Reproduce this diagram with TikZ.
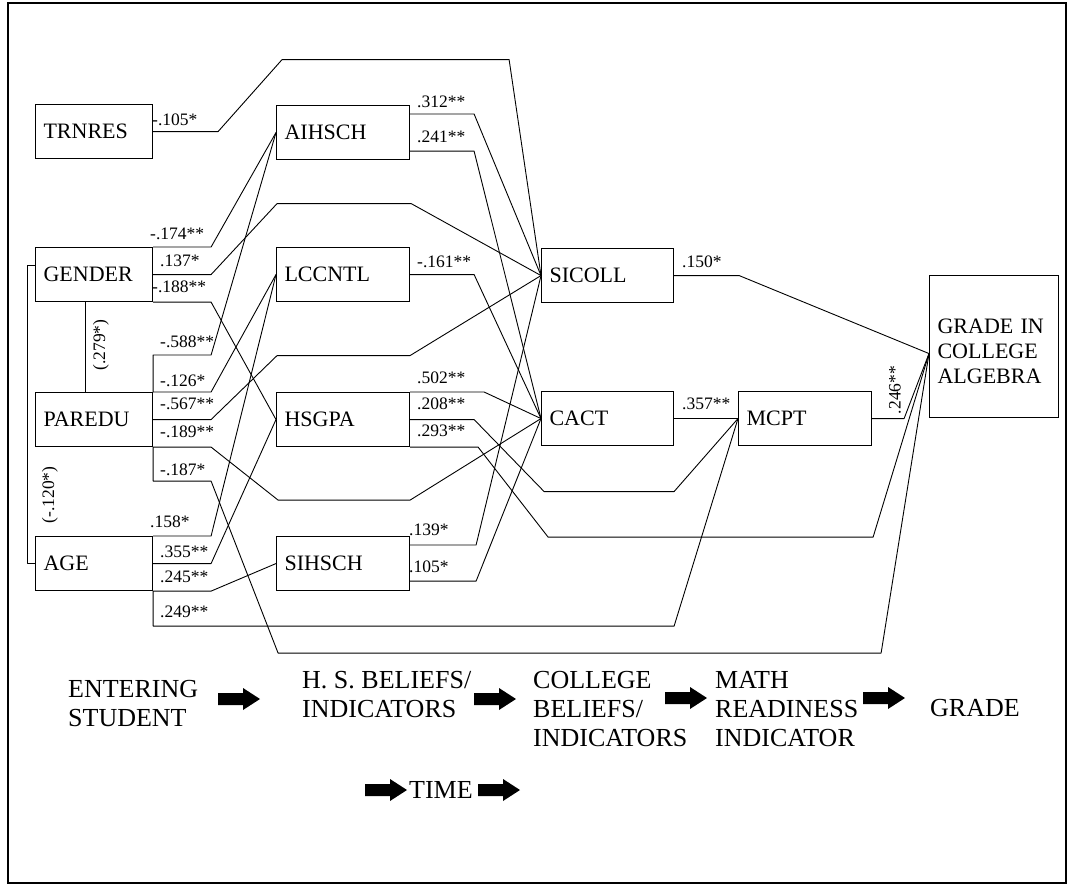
\documentclass[tikz,border=0pt]{standalone}
\usepackage{fontspec}
\setmainfont{Liberation Serif}
\usetikzlibrary{calc}

\tikzset{
  var/.style={draw, line width=1.1pt, anchor=north west, inner xsep=8pt, inner ysep=0pt,
    minimum height=54pt, align=left, font=\fontsize{22}{25}\selectfont},
  link/.style={line width=0.9pt, line join=round},
  coef/.style={inner sep=0pt, anchor=west, font=\fontsize{17.5}{19}\selectfont},
  stage/.style={inner sep=0pt, anchor=west, align=left, font=\fontsize{26}{29}\selectfont},
}
\newcommand{\fatarrow}[1]{\fill (#1) ++(0,-6) -- ++(25,0) -- ++(0,-5) -- ++(17,11) -- ++(-17,11) -- ++(0,-5) -- ++(-25,0) -- cycle;}

\begin{document}
\begin{tikzpicture}[x=1pt, y=-1pt]
  \useasboundingbox (0,0) rectangle (1074,886);
  \draw[line width=2pt] (8,3) rectangle (1066,883);

  % entering student
  \node[var, text width=101pt] (TRNRES) at (35,104) {TRNRES};
  \node[var, text width=101pt] (GENDER) at (35,247) {GENDER};
  \node[var, text width=101pt] (PAREDU) at (35,392) {PAREDU};
  \node[var, text width=101pt] (AGE) at (35,536) {AGE};
  % high school
  \node[var, text width=117pt] (AIHSCH) at (276,105) {AIHSCH};
  \node[var, text width=117pt] (LCCNTL) at (276,247) {LCCNTL};
  \node[var, text width=117pt] (HSGPA) at (276,392) {HSGPA};
  \node[var, text width=117pt] (SIHSCH) at (276,536) {SIHSCH};
  % college, readiness, grade
  \node[var, text width=116pt] (SICOLL) at (541,248) {SICOLL};
  \node[var, text width=116pt] (CACT) at (541,391) {CACT};
  \node[var, text width=117pt] (MCPT) at (738,391) {MCPT};
  \node[var, text width=113pt, minimum height=142pt] (GRADE) at (929,275) {};
  \node[var, draw=none, anchor=west, text width=113pt] (gradeTxt) at ($(GRADE.west)+(0,5)$) {GRADE IN\\COLLEGE\\ALGEBRA};
  \coordinate (gIn) at ($(GRADE.west)+(0,7)$);

  % correlations
  \draw[link] ($(GENDER.south west)+(50,0)$) -- ($(PAREDU.north west)+(50,0)$);
  \draw[link] ($(GENDER.west)+(0,-9)$) -- ++(-8,0) |- (AGE.west);
  \node[coef, anchor=center, rotate=90] (r279) at (101,345) {(.279*)};
  \node[coef, anchor=center, rotate=90] (r120) at (50,495) {(-.120*)};

  % paths from entering student
  \draw[link] (TRNRES.east) -- ++(65,0) -- ++(64,-72) -- ++(227,0) -- (SICOLL.west);
  \draw[link] (GENDER.north east) -- ++(58,0) -- (AIHSCH.west);
  \draw[link] (GENDER.east) -- ++(58,0) -- ++(66,-71) -- ++(134,0) -- (SICOLL.west);
  \draw[link] (GENDER.south east) -- ++(58,0) -- (HSGPA.west);
  \draw[link] (PAREDU.north east) -- ++(0,-37) -- ++(58,0) -- (AIHSCH.west);
  \draw[link] (PAREDU.north east) -- ++(58,0) -- (LCCNTL.west);
  \draw[link] (PAREDU.east) -- ++(58,0) -- ++(66,-64) -- ++(133,0) -- (SICOLL.west);
  \draw[link] (PAREDU.south east) -- ++(58,0) -- ++(67,53) -- ++(132,0) -- (CACT.west);
  \draw[link] (PAREDU.south east) -- ++(0,34) -- ++(58,0) -- ++(67,172) -- ++(603,0) -- (gIn);
  \draw[link] (AGE.north east) -- ++(58,0) -- (LCCNTL.west);
  \draw[link] (AGE.east) -- ++(58,0) -- (HSGPA.west);
  \draw[link] (AGE.south east) -- ++(58,0) -- (SIHSCH.west);
  \draw[link] (AGE.south east) -- ++(0,35) -- ++(521,0) -- (MCPT.west);

  % paths from high school
  \draw[link] ($(AIHSCH.north east)+(0,9)$) -- ++(64,0) -- (SICOLL.west);
  \draw[link] ($(AIHSCH.south east)+(0,-9)$) -- ++(64,0) -- (CACT.west);
  \draw[link] (LCCNTL.east) -- ++(64,0) -- (CACT.west);
  \draw[link] (HSGPA.north east) -- ++(74,0) -- (CACT.west);
  \draw[link] (HSGPA.east) -- ++(64,0) -- ++(70,72) -- ++(130,0) -- (MCPT.west);
  \draw[link] (HSGPA.south east) -- ++(68,0) -- ++(70,90) -- ++(325,0) -- (gIn);
  \draw[link] ($(SIHSCH.north east)+(0,9)$) -- ++(66,0) -- (SICOLL.west);
  \draw[link] ($(SIHSCH.south east)+(0,-10)$) -- ++(66,0) -- (CACT.west);

  % paths from college
  \draw[link] (SICOLL.east) -- ++(65,0) -- (gIn);
  \draw[link] (CACT.east) -- (MCPT.west);
  \draw[link] (MCPT.east) -- ++(32,0) -- (gIn);

  % coefficients
  \node[coef] (c105a) at (152,120) {-.105*};
  \node[coef] (c174) at (150,234) {-.174**};
  \node[coef] (c137) at (160,261) {.137*};
  \node[coef] (c188) at (152,287) {-.188**};
  \node[coef] (c588) at (160,342) {-.588**};
  \node[coef] (c126) at (160,381) {-.126*};
  \node[coef] (c567) at (160,404) {-.567**};
  \node[coef] (c189) at (160,432) {-.189**};
  \node[coef] (c187) at (160,470) {-.187*};
  \node[coef] (c158) at (150,522) {.158*};
  \node[coef] (c355) at (160,552) {.355**};
  \node[coef] (c245) at (160,577) {.245**};
  \node[coef] (c249) at (160,612) {.249**};
  \node[coef] (c312) at (417,102) {.312**};
  \node[coef] (c241) at (417,137) {.241**};
  \node[coef] (c161) at (417,262) {-.161**};
  \node[coef] (c502) at (417,378) {.502**};
  \node[coef] (c208) at (417,404) {.208**};
  \node[coef] (c293) at (417,431) {.293**};
  \node[coef] (c139) at (409,530) {.139*};
  \node[coef] (c105b) at (409,567) {.105*};
  \node[coef] (c150) at (682,262) {.150*};
  \node[coef] (c357) at (682,404) {.357**};
  \node[coef, anchor=center, rotate=90] (c246) at (895,390) {.246**};

  % time line
  \node[stage] (sEnter) at (68,704) {ENTERING\\STUDENT};
  \fatarrow{218,699}
  \node[stage] (sHigh) at (302,695) {H. S. BELIEFS/\\INDICATORS};
  \fatarrow{474,699}
  \node[stage] (sColl) at (533,709) {COLLEGE\\BELIEFS/\\INDICATORS};
  \fatarrow{665,698}
  \node[stage] (sMath) at (715,709) {MATH\\READINESS\\INDICATOR};
  \fatarrow{863,698}
  \node[stage] (sGrade) at (930,708) {GRADE};
  \fatarrow{365,790}
  \node[stage] (sTime) at (409,790) {TIME};
  \fatarrow{478,790}
\end{tikzpicture}
\end{document}
